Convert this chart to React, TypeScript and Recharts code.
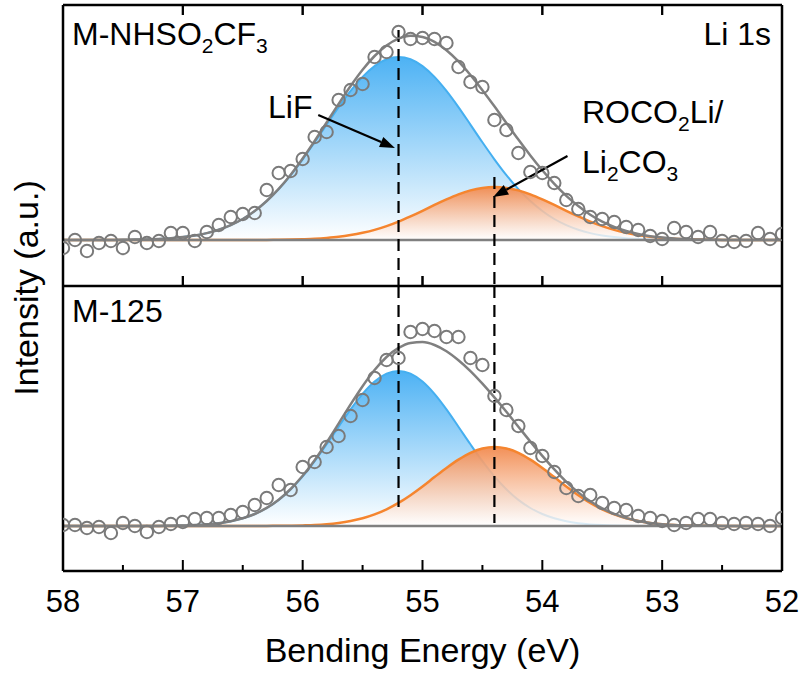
import React from 'react';
import { ComposedChart, Area, Line, XAxis, YAxis, ReferenceLine, Label } from 'recharts';

const FONT = '"Liberation Sans", Arial, Helvetica, sans-serif';

const energies = [
  58.0, 57.9, 57.8, 57.7, 57.6, 57.5, 57.4, 57.3, 57.2, 57.1,
  57.0, 56.9, 56.8, 56.7, 56.6, 56.5, 56.4, 56.3, 56.2, 56.1,
  56.0, 55.9, 55.8, 55.7, 55.6, 55.5, 55.4, 55.3, 55.2, 55.1,
  55.0, 54.9, 54.8, 54.7, 54.6, 54.5, 54.4, 54.3, 54.2, 54.1,
  54.0, 53.9, 53.8, 53.7, 53.6, 53.5, 53.4, 53.3, 53.2, 53.1,
  53.0, 52.9, 52.8, 52.7, 52.6, 52.5, 52.4, 52.3, 52.2, 52.1, 52.0,
];

const topExp = [
  -8, 0, -11, -3, -1, -8, 3, -3, -1, 7,
  7, -1, 8, 15, 23, 26, 27, 50, 67, 69,
  81, 103, 108, 140, 150, 156, 183, 188, 208, 201,
  202, 201, 197, 173, 158, 153, 120, 110, 87, 68,
  67, 57, 40, 31, 23, 21, 18, 13, 10, 4,
  1, 12, 8, 3, 8, -1, -2, -1, 7, 1, 6,
];
const topLiF = [
  0, 0, 0, 0.1, 0.1, 0.2, 0.4, 0.6, 1.1, 1.8,
  2.9, 4.5, 6.9, 10.3, 14.9, 21.0, 29.0, 38.9, 50.9, 64.9,
  80.7, 97.7, 115.4, 132.9, 149.1, 163.1, 173.9, 180.7, 183, 180.7,
  173.9, 163.1, 149.1, 132.9, 115.4, 97.7, 80.7, 64.9, 50.9, 38.9,
  29.0, 21.0, 14.9, 10.3, 6.9, 4.5, 2.9, 1.8, 1.1, 0.6,
  0.4, 0.2, 0.1, 0.1, 0, 0, 0, 0, 0, 0, 0,
];
const topRoco = [
  0, 0, 0, 0, 0, 0, 0, 0, 0, 0,
  0, 0, 0, 0, 0, 0, 0, 0.1, 0.2, 0.4,
  0.8, 1.3, 2.1, 3.2, 4.9, 7.2, 10.1, 13.9, 18.4, 23.6,
  29.2, 35.1, 40.7, 45.7, 49.6, 52.1, 53, 52.1, 49.6, 45.7,
  40.7, 35.1, 29.2, 23.6, 18.4, 13.9, 10.1, 7.2, 4.9, 3.2,
  2.1, 1.3, 0.8, 0.4, 0.2, 0.1, 0, 0, 0, 0, 0,
];
const topFit = [
  0, 0, 0, 0.1, 0.1, 0.2, 0.4, 0.6, 1.1, 1.8,
  2.9, 4.5, 6.9, 10.3, 14.9, 21.0, 29.0, 39.0, 51.1, 65.3,
  81.5, 99.0, 117.5, 136.1, 154.0, 170.3, 184.0, 194.6, 201.4, 204.3,
  203.1, 198.2, 189.8, 178.6, 165.0, 149.8, 133.7, 117.0, 100.5, 84.6,
  69.7, 56.1, 44.1, 33.9, 25.3, 18.4, 13.0, 9.0, 6.0, 3.8,
  2.5, 1.5, 0.9, 0.5, 0.2, 0.1, 0, 0, 0, 0, 0,
];

const botExp = [
  1, 1, -2, -1, -7, 3, 0, -6, -1, 2,
  4, 7, 8, 8, 11, 14, 21, 28, 41, 36,
  59, 64, 79, 90, 110, 126, 148, 166, 168, 194,
  197, 195, 189, 189, 168, 161, 130, 116, 100, 78,
  70, 54, 38, 30, 31, 23, 18, 16, 10, 8,
  5, 1, 3, 7, 7, 3, 2, 3, 2, 0, 8,
];
const botLiF = [
  0, 0, 0, 0, 0, 0, 0, 0, 0.1, 0.2,
  0.5, 0.9, 1.6, 2.8, 4.7, 7.7, 12.0, 18.0, 26.1, 36.7,
  49.6, 64.8, 81.7, 99.3, 116.6, 132.1, 144.4, 152.3, 155, 152.3,
  144.4, 132.1, 116.6, 99.3, 81.7, 64.8, 49.6, 36.7, 26.1, 18.0,
  12.0, 7.7, 4.7, 2.8, 1.6, 0.9, 0.5, 0.2, 0.1, 0,
  0, 0, 0, 0, 0, 0, 0, 0, 0, 0, 0,
];
const botRoco = [
  0, 0, 0, 0, 0, 0, 0, 0, 0, 0,
  0, 0, 0, 0, 0, 0, 0, 0.1, 0.2, 0.3,
  0.6, 1.0, 1.8, 3.1, 5.0, 7.7, 11.6, 16.7, 23.1, 30.8,
  39.5, 48.9, 58.1, 66.4, 73.2, 77.5, 79, 77.5, 73.2, 66.4,
  58.1, 48.9, 39.5, 30.8, 23.1, 16.7, 11.6, 7.7, 5.0, 3.1,
  1.8, 1.0, 0.6, 0.3, 0.2, 0.1, 0, 0, 0, 0, 0,
];
const botFit = [
  0, 0, 0, 0, 0, 0, 0, 0, 0.1, 0.2,
  0.5, 0.9, 1.6, 2.8, 4.7, 7.7, 12.0, 18.1, 26.3, 37.0,
  50.2, 65.8, 83.5, 102.4, 121.6, 139.8, 156.0, 169.0, 178.1, 183.1,
  183.9, 181.0, 174.7, 165.7, 154.9, 142.3, 128.6, 114.2, 99.3, 84.4,
  70.1, 56.6, 44.2, 33.6, 24.7, 17.6, 12.1, 7.9, 5.1, 3.1,
  1.8, 1.0, 0.6, 0.3, 0.2, 0.1, 0, 0, 0, 0, 0,
];

const xDomain = [52, 58];
const majorTicks = [58, 57, 56, 55, 54, 53, 52];
const allTicks = [58, 57.5, 57, 56.5, 56, 55.5, 55, 54.5, 54, 53.5, 53, 52.5, 52];
const topYDomain = [-46, 235];
const botYDomain = [-45, 240];
const lifPeak = 55.2;
const rocoPeak = 54.4;

const topRows = energies.map((e, i) => ({ e, exp: topExp[i], lif: topLiF[i], roco: topRoco[i], fit: topFit[i] }));
const botRows = energies.map((e, i) => ({ e, exp: botExp[i], lif: botLiF[i], roco: botRoco[i], fit: botFit[i] }));

const GRAY = '#808080';
const BLUE = '#45AFF0';
const ORANGE = '#F5852F';

// Tick renderer: draws an inward tick mark (and optionally the label) for each axis tick.
// inTop / inBottom: tick lengths drawn downward from the panel top / upward from the panel bottom.
const makeTick = (cfg: { showLabel: boolean; major: number; minor: number; dir: number }) => (props: any) => {
  const { x, y, payload } = props;
  const v = payload.value;
  const isMajor = Math.abs(v - Math.round(v)) < 1e-6;
  const len = isMajor ? cfg.major : cfg.minor;
  return (
    <g>
      {len > 0 ? <path d={`M${x},${y}L${x},${y + cfg.dir * len}`} stroke="#000" strokeWidth={2} fill="none" /> : null}
      {cfg.showLabel && isMajor ? (
        <text x={x} y={y + 41} textAnchor="middle" fontSize={31} fontFamily={FONT} fill="#000">
          {v}
        </text>
      ) : null}
    </g>
  );
};

const Arrow = (p: any) => {
  const { x1, y1, x2, y2 } = p;
  const ang = Math.atan2(y2 - y1, x2 - x1);
  const L = 15;
  const W = 5.5;
  const c = Math.cos(ang);
  const s = Math.sin(ang);
  const bx = x2 - L * c;
  const by = y2 - L * s;
  return (
    <g>
      <line x1={x1} y1={y1} x2={bx} y2={by} stroke="#000" strokeWidth={2.2} />
      <polygon points={`${x2},${y2} ${bx + W * s},${by - W * c} ${bx - W * s},${by + W * c}`} fill="#000" />
    </g>
  );
};

// Tick-mark shape for the top panel frame (inward pointing), drawn via a vertical segment.
const TickMark = (p: any) => {
  const { x1, y1, x2, y2 } = p;
  return <path d={`M${x1},${y1}L${x2},${y2}`} stroke="#000" strokeWidth={2} fill="none" />;
};

const axisLineStyle = { stroke: '#000', strokeWidth: 2.5 };

function Gradients({ id }: { id: string }) {
  return (
    <defs>
      <linearGradient id={`blue-${id}`} x1="0" y1="0" x2="0" y2="1">
        <stop offset="0%" stopColor="#4DB2F4" stopOpacity={1} />
        <stop offset="100%" stopColor="#ffffff" stopOpacity={1} />
      </linearGradient>
      <linearGradient id={`orange-${id}`} x1="0" y1="0" x2="0" y2="1">
        <stop offset="0%" stopColor="#F28A4E" stopOpacity={0.95} />
        <stop offset="100%" stopColor="#ffffff" stopOpacity={0.8} />
      </linearGradient>
    </defs>
  );
}

function TopPanel() {
  const yMin = topYDomain[0];
  const yMax = topYDomain[1];
  return (
    <ComposedChart width={802} height={366} data={topRows} margin={{ top: 0, right: 19, bottom: 0, left: 62 }}>
      <Gradients id="top" />
      <XAxis
        dataKey="e"
        type="number"
        domain={xDomain}
        reversed
        allowDataOverflow
        ticks={majorTicks}
        interval={0}
        tickSize={0}
        tickMargin={0}
        height={40}
        axisLine={axisLineStyle}
        tickLine={false}
        tick={makeTick({ showLabel: false, major: 10, minor: 0, dir: -1 })}
      />
      <XAxis
        xAxisId="t"
        orientation="top"
        dataKey="e"
        type="number"
        domain={xDomain}
        reversed
        allowDataOverflow
        ticks={majorTicks}
        interval={0}
        tickSize={0}
        tickMargin={0}
        height={45}
        axisLine={axisLineStyle}
        tickLine={false}
        tick={makeTick({ showLabel: false, major: 10, minor: 0, dir: 1 })}
      />
      <YAxis type="number" domain={topYDomain} allowDataOverflow width={1} tick={false} tickLine={false} axisLine={axisLineStyle} />
      <YAxis yAxisId="r" orientation="right" type="number" domain={topYDomain} allowDataOverflow width={1} tick={false} tickLine={false} axisLine={axisLineStyle} />

      <Area dataKey="lif" type="monotone" baseValue={0} stroke={BLUE} strokeWidth={2} fill="url(#blue-top)" fillOpacity={1} dot={false} activeDot={false} isAnimationActive={false} />
      <Area dataKey="roco" type="monotone" baseValue={0} stroke={ORANGE} strokeWidth={2.5} fill="url(#orange-top)" fillOpacity={1} dot={false} activeDot={false} isAnimationActive={false} />
      <ReferenceLine y={0} stroke={GRAY} strokeWidth={2.5} />
      <Line dataKey="fit" type="monotone" stroke={GRAY} strokeWidth={2.5} dot={false} activeDot={false} isAnimationActive={false} />

      <ReferenceLine segment={[{ x: 57, y: yMax }, { x: 57, y: yMax - 10 }]} shape={TickMark} ifOverflow="visible" />
      <ReferenceLine segment={[{ x: 56, y: yMax }, { x: 56, y: yMax - 10 }]} shape={TickMark} ifOverflow="visible" />
      <ReferenceLine segment={[{ x: 55, y: yMax }, { x: 55, y: yMax - 10 }]} shape={TickMark} ifOverflow="visible" />
      <ReferenceLine segment={[{ x: 54, y: yMax }, { x: 54, y: yMax - 10 }]} shape={TickMark} ifOverflow="visible" />
      <ReferenceLine segment={[{ x: 53, y: yMax }, { x: 53, y: yMax - 10 }]} shape={TickMark} ifOverflow="visible" />
      <ReferenceLine segment={[{ x: 57, y: yMin }, { x: 57, y: yMin + 10 }]} shape={TickMark} ifOverflow="visible" />
      <ReferenceLine segment={[{ x: 56, y: yMin }, { x: 56, y: yMin + 10 }]} shape={TickMark} ifOverflow="visible" />
      <ReferenceLine segment={[{ x: 55, y: yMin }, { x: 55, y: yMin + 10 }]} shape={TickMark} ifOverflow="visible" />
      <ReferenceLine segment={[{ x: 54, y: yMin }, { x: 54, y: yMin + 10 }]} shape={TickMark} ifOverflow="visible" />
      <ReferenceLine segment={[{ x: 53, y: yMin }, { x: 53, y: yMin + 10 }]} shape={TickMark} ifOverflow="visible" />

      <ReferenceLine segment={[{ x: lifPeak, y: 210 }, { x: lifPeak, y: -46 }]} stroke="#000" strokeWidth={2.2} strokeDasharray="12 7" ifOverflow="visible" />
      <ReferenceLine segment={[{ x: rocoPeak, y: 63 }, { x: rocoPeak, y: -46 }]} stroke="#000" strokeWidth={2.2} strokeDasharray="12 7" ifOverflow="visible" />
      <ReferenceLine segment={[{ x: 55.87, y: 125 }, { x: 55.23, y: 92 }]} shape={Arrow} ifOverflow="visible" />
      <ReferenceLine segment={[{ x: 53.79, y: 84 }, { x: 54.41, y: 43 }]} shape={Arrow} ifOverflow="visible" />
      <Line dataKey="exp" type="linear" stroke="none" dot={{ r: 6.2, fill: 'none', stroke: '#7a7a7a', strokeWidth: 2 }} activeDot={false} isAnimationActive={false} />
    </ComposedChart>
  );
}

function BottomPanel() {
  return (
    <ComposedChart width={802} height={391} data={botRows} margin={{ top: 0, right: 19, bottom: 0, left: 62 }}>
      <Gradients id="bot" />
      <XAxis
        dataKey="e"
        type="number"
        domain={xDomain}
        reversed
        allowDataOverflow
        ticks={allTicks}
        interval={0}
        tickSize={0}
        tickMargin={0}
        height={106}
        axisLine={axisLineStyle}
        tickLine={false}
        tick={makeTick({ showLabel: true, major: 11, minor: 6, dir: -1 })}
      >
        <Label value="Bending Energy (eV)" position="insideBottom" offset={15} style={{ fontSize: 34, fill: '#000', fontFamily: FONT }} />
      </XAxis>
      <YAxis type="number" domain={botYDomain} allowDataOverflow width={1} tick={false} tickLine={false} axisLine={axisLineStyle} />
      <YAxis yAxisId="r" orientation="right" type="number" domain={botYDomain} allowDataOverflow width={1} tick={false} tickLine={false} axisLine={axisLineStyle} />

      <Area dataKey="lif" type="monotone" baseValue={0} stroke={BLUE} strokeWidth={2} fill="url(#blue-bot)" fillOpacity={1} dot={false} activeDot={false} isAnimationActive={false} />
      <Area dataKey="roco" type="monotone" baseValue={0} stroke={ORANGE} strokeWidth={2.5} fill="url(#orange-bot)" fillOpacity={1} dot={false} activeDot={false} isAnimationActive={false} />
      <ReferenceLine y={0} stroke={GRAY} strokeWidth={2.5} />
      <Line dataKey="fit" type="monotone" stroke={GRAY} strokeWidth={2.5} dot={false} activeDot={false} isAnimationActive={false} />
      <ReferenceLine segment={[{ x: lifPeak, y: 240 }, { x: lifPeak, y: 16 }]} stroke="#000" strokeWidth={2.2} strokeDasharray="12 7" ifOverflow="visible" />
      <ReferenceLine segment={[{ x: rocoPeak, y: 240 }, { x: rocoPeak, y: 3 }]} stroke="#000" strokeWidth={2.2} strokeDasharray="12 7" ifOverflow="visible" />
      <Line dataKey="exp" type="linear" stroke="none" dot={{ r: 6.2, fill: 'none', stroke: '#7a7a7a', strokeWidth: 2 }} activeDot={false} isAnimationActive={false} />
    </ComposedChart>
  );
}

export default function App() {
  const sub = { fontSize: 21 };
  return (
    <div style={{ position: 'absolute', left: 0, top: 0, width: 802, height: 677, background: '#fff', fontFamily: FONT, overflow: 'hidden' }}>
      <div style={{ position: 'absolute', left: 0, top: 286 }}>
        <BottomPanel />
      </div>
      <div style={{ position: 'absolute', left: 0, top: -40 }}>
        <TopPanel />
      </div>
      <svg width={802} height={677} style={{ position: 'absolute', left: 0, top: 0, pointerEvents: 'none' }}>
        <g fontFamily={FONT} fill="#000" fontSize={32}>
          <text x={72} y={45}>
            M-NHSO<tspan style={sub} dy={8}>2</tspan>
            <tspan dy={-8}>CF</tspan>
            <tspan style={sub} dy={8}>3</tspan>
          </text>
          <text x={771} y={45} textAnchor="end">Li 1s</text>
          <text x={268} y={118}>LiF</text>
          <text x={582} y={123}>
            ROCO<tspan style={sub} dy={8}>2</tspan>
            <tspan dy={-8}>Li/</tspan>
          </text>
          <text x={582} y={173}>
            Li<tspan style={sub} dy={8}>2</tspan>
            <tspan dy={-8}>CO</tspan>
            <tspan style={sub} dy={8}>3</tspan>
          </text>
          <text x={72} y={322}>M-125</text>
          <text x={38} y={288} textAnchor="middle" fontSize={34} transform="rotate(-90 38 288)">
            Intensity (a.u.)
          </text>
        </g>
      </svg>
    </div>
  );
}
